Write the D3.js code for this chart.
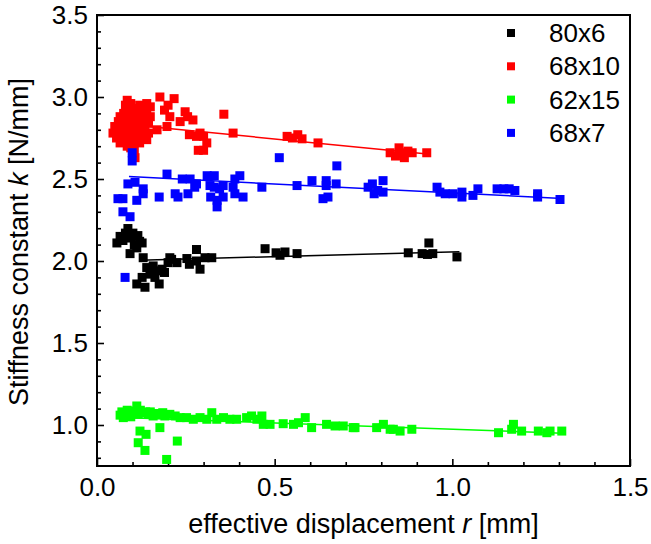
<!DOCTYPE html>
<html>
<head>
<meta charset="utf-8">
<script src="https://cdn.jsdelivr.net/npm/d3@7"></script>
<style>
    body { margin: 0; background: #fff; }
    svg text { font-family: "Liberation Sans", Arial, sans-serif; fill: #000; }
</style>
</head>
<body>
<div id="chart"></div>
<script>
// --- Data ---
const seriesNames = ["80x6", "68x10", "62x15", "68x7"];
const seriesColors = ["#000000", "#ff0000", "#00ff00", "#0000ff"];

const pts80x6 = [
    [0.056,2.11],[0.065,2.15],[0.073,2.125],[0.08,2.17],[0.087,2.198],[0.093,2.045],[0.095,2.14],
    [0.101,2.17],[0.105,2.10],[0.112,2.08],[0.115,2.155],[0.12,2.12],[0.127,2.11],[0.13,2.02],
    [0.112,1.86],[0.127,1.90],[0.135,1.84],[0.14,1.96],[0.149,1.92],[0.158,1.97],[0.163,1.90],
    [0.169,1.94],[0.175,1.86],[0.183,1.95],[0.19,1.93],[0.2,1.99],[0.205,2.02],[0.21,2.01],
    [0.225,1.99],[0.253,2.015],[0.26,1.98],[0.28,2.07],[0.28,2.0],[0.29,1.95],[0.304,2.02],
    [0.323,2.02],[0.473,2.075],[0.504,2.05],[0.515,2.035],[0.529,2.055],[0.563,2.045],
    [0.876,2.05],[0.915,2.045],[0.93,2.04],[0.934,2.11],[0.945,2.045],[1.013,2.025]
];
const pts68x10 = [
    [0.045,2.78],[0.05,2.82],[0.055,2.75],[0.06,2.85],[0.06,2.79],[0.065,2.72],[0.065,2.88],
    [0.07,2.82],[0.07,2.76],[0.075,2.9],[0.075,2.73],[0.08,2.95],[0.08,2.85],[0.08,2.79],
    [0.085,2.98],[0.085,2.7],[0.09,2.92],[0.09,2.87],[0.09,2.81],[0.09,2.75],[0.095,2.96],
    [0.095,2.69],[0.1,2.9],[0.1,2.84],[0.1,2.78],[0.1,2.72],[0.105,2.87],[0.105,2.68],
    [0.11,2.93],[0.11,2.8],[0.11,2.74],[0.115,2.9],[0.115,2.84],[0.12,2.95],[0.12,2.78],
    [0.12,2.72],[0.125,2.88],[0.125,2.82],[0.13,2.93],[0.13,2.76],[0.135,2.86],[0.135,2.8],
    [0.14,2.96],[0.14,2.9],[0.14,2.74],[0.145,2.84],[0.145,2.78],[0.15,2.94],[0.15,2.88],
    [0.107,2.63],
    [0.169,2.80],[0.177,3.0],[0.19,2.92],[0.2,2.95],[0.197,2.82],[0.205,2.88],[0.217,2.99],
    [0.234,2.85],[0.248,2.91],[0.255,2.88],[0.26,2.77],[0.27,2.86],[0.28,2.76],[0.285,2.675],
    [0.29,2.78],[0.30,2.675],[0.309,2.72],[0.30,2.76],[0.357,2.895],[0.383,2.78],
    [0.535,2.76],[0.55,2.75],[0.565,2.77],[0.577,2.745],[0.622,2.72],
    [0.825,2.66],[0.84,2.64],[0.85,2.69],[0.86,2.66],[0.865,2.63],[0.875,2.67],[0.887,2.66],
    [0.928,2.66]
];
const pts62x15 = [
    [0.065,1.06],[0.07,1.08],[0.074,1.045],[0.079,1.075],[0.085,1.09],[0.088,1.065],[0.095,1.05],
    [0.102,1.085],[0.108,1.07],[0.112,1.116],[0.116,1.065],[0.122,1.09],[0.13,1.075],[0.137,1.08],
    [0.144,1.065],[0.15,1.08],[0.158,1.055],[0.165,1.07],[0.177,1.065],[0.185,1.075],[0.191,1.055],
    [0.205,1.065],[0.22,1.055],[0.234,1.045],[0.252,1.045],[0.271,1.035],[0.29,1.045],[0.309,1.035],
    [0.323,1.075],[0.337,1.035],[0.356,1.045],[0.374,1.035],[0.393,1.035],[0.421,1.045],[0.435,1.055],
    [0.45,1.035],[0.464,1.055],[0.468,1.004],[0.487,1.004],[0.524,1.008],[0.553,1.004],[0.567,1.014],
    [0.586,1.045],[0.604,0.984],[0.646,1.004],[0.67,0.994],[0.693,0.994],[0.721,0.984],[0.726,0.984],
    [0.787,0.984],[0.806,1.004],[0.825,0.974],[0.834,0.974],[0.853,0.963],[0.886,0.974],
    [1.13,0.953],[1.167,0.974],[1.172,1.004],[1.195,0.963],[1.242,0.963],[1.266,0.953],
    [1.275,0.963],[1.308,0.963],
    [0.121,0.963],[0.138,0.943],[0.116,0.892],[0.135,0.845],[0.196,0.79],[0.226,0.902],[0.177,0.984]
];
const pts68x7 = [
    [0.099,2.66],[0.099,2.61],[0.513,2.63],[0.675,2.58],[0.197,2.53],[0.087,2.47],[0.107,2.48],
    [0.13,2.44],[0.13,2.41],[0.059,2.38],[0.073,2.38],[0.112,2.37],[0.175,2.39],[0.22,2.41],
    [0.228,2.39],[0.24,2.50],[0.262,2.50],[0.256,2.41],[0.28,2.47],[0.275,2.45],[0.31,2.52],
    [0.33,2.52],[0.318,2.46],[0.33,2.45],[0.345,2.44],[0.355,2.46],[0.32,2.39],[0.338,2.37],
    [0.355,2.39],[0.338,2.33],[0.388,2.50],[0.402,2.52],[0.383,2.45],[0.388,2.41],[0.411,2.39],
    [0.464,2.45],[0.563,2.46],[0.605,2.49],[0.645,2.49],[0.645,2.46],[0.636,2.38],[0.65,2.39],
    [0.673,2.47],[0.763,2.45],[0.775,2.47],[0.78,2.41],[0.79,2.43],[0.805,2.49],[0.805,2.42],
    [0.073,2.30],[0.093,2.27],[0.079,1.90],
    [0.957,2.45],[0.965,2.42],[0.98,2.41],[1.002,2.41],[1.027,2.42],[1.027,2.39],[1.058,2.40],
    [1.072,2.44],[1.126,2.44],[1.145,2.44],[1.16,2.44],[1.176,2.43],[1.24,2.41],[1.24,2.39],
    [1.303,2.375]
];

// fit lines as end points
const fit80x6 = [[0.12, 2.005], [1.02, 2.057]];
const fit68x10 = [[0.05, 2.84], [0.93, 2.653]];
const fit62x15 = [[0.07, 1.046], [1.31, 0.95]];
const fit68x7 = [[0.09, 2.515], [1.31, 2.381]];

const xTicks = [0.0, 0.5, 1.0, 1.5];
const yTicks = [1.0, 1.5, 2.0, 2.5, 3.0, 3.5];

// --- Layout ---
const W = 651, H = 544;
const margin = {top: 15, right: 21, bottom: 78, left: 97};
const iw = W - margin.left - margin.right;
const ih = H - margin.top - margin.bottom;

const svg = d3.select("#chart").append("svg").attr("width", W).attr("height", H);
const g = svg.append("g").attr("transform", `translate(${margin.left},${margin.top})`);

const x = d3.scaleLinear().domain([0, 1.5]).range([0, iw]);
const y = d3.scaleLinear().domain([0.75, 3.5]).range([ih, 0]);

// --- Axes (ticks inward) ---
const minorX = d3.range(1, 15).map(i => i / 10).filter(v => Math.abs(v * 2 - Math.round(v * 2)) > 1e-6);
const minorY = d3.range(8, 35).map(i => i / 10).filter(v => Math.abs(v * 2 - Math.round(v * 2)) > 1e-6);

g.append("g").attr("transform", `translate(0,${ih})`)
    .call(d3.axisBottom(x).tickValues(xTicks).tickFormat(d3.format(".1f"))
        .tickSizeInner(-7).tickSizeOuter(0).tickPadding(12))
    .call(a => a.select(".domain").remove())
    .call(a => a.selectAll("text").style("font-size", "26px").attr("font-family", null));
g.append("g").attr("transform", `translate(0,${ih})`)
    .call(d3.axisBottom(x).tickValues(minorX).tickFormat("").tickSizeInner(-4).tickSizeOuter(0))
    .call(a => a.select(".domain").remove());

g.append("g")
    .call(d3.axisLeft(y).tickValues(yTicks).tickFormat(d3.format(".1f"))
        .tickSizeInner(-7).tickSizeOuter(0).tickPadding(9))
    .call(a => a.select(".domain").remove())
    .call(a => a.selectAll("text").style("font-size", "26px").attr("font-family", null));
g.append("g")
    .call(d3.axisLeft(y).tickValues(minorY).tickFormat("").tickSizeInner(-4).tickSizeOuter(0))
    .call(a => a.select(".domain").remove());

g.selectAll(".tick line").attr("stroke", "#000").attr("stroke-width", 1.6);

// frame
g.append("rect").attr("width", iw).attr("height", ih)
    .attr("fill", "none").attr("stroke", "#000").attr("stroke-width", 2);

// --- Series ---
const allPts = [pts80x6, pts68x10, pts62x15, pts68x7];
const allFits = [fit80x6, fit68x10, fit62x15, fit68x7];
const sz = 9;

const line = d3.line().x(d => x(d[0])).y(d => y(d[1]));

allPts.forEach((pts, i) => {
    g.append("path").datum(allFits[i])
        .attr("d", line).attr("fill", "none")
        .attr("stroke", seriesColors[i]).attr("stroke-width", 1.5);
    g.append("g").selectAll("rect").data(pts).join("rect")
        .attr("x", d => x(d[0]) - sz / 2).attr("y", d => y(d[1]) - sz / 2)
        .attr("width", sz).attr("height", sz)
        .attr("fill", seriesColors[i]);
});

// --- Legend ---
const leg = svg.append("g");
seriesNames.forEach((name, i) => {
    const ly = 33 + i * 33.3;
    leg.append("rect").attr("x", 511 - 4).attr("y", ly - 4)
        .attr("width", 8).attr("height", 8).attr("fill", seriesColors[i]);
    leg.append("text").attr("x", 549).attr("y", ly)
        .attr("dominant-baseline", "central").style("font-size", "26px").text(name);
});

// --- Axis titles ---
svg.append("text").attr("x", margin.left + iw / 2).attr("y", 533)
    .attr("text-anchor", "middle").style("font-size", "27px")
    .call(t => {
        t.append("tspan").text("effective displacement ");
        t.append("tspan").style("font-style", "italic").text("r");
        t.append("tspan").text(" [mm]");
    });

svg.append("text").attr("transform", "translate(28,242) rotate(-90)")
    .attr("text-anchor", "middle").style("font-size", "27px")
    .call(t => {
        t.append("tspan").text("Stiffness constant ");
        t.append("tspan").style("font-style", "italic").text("k");
        t.append("tspan").text(" [N/mm]");
    });
</script>
</body>
</html>
